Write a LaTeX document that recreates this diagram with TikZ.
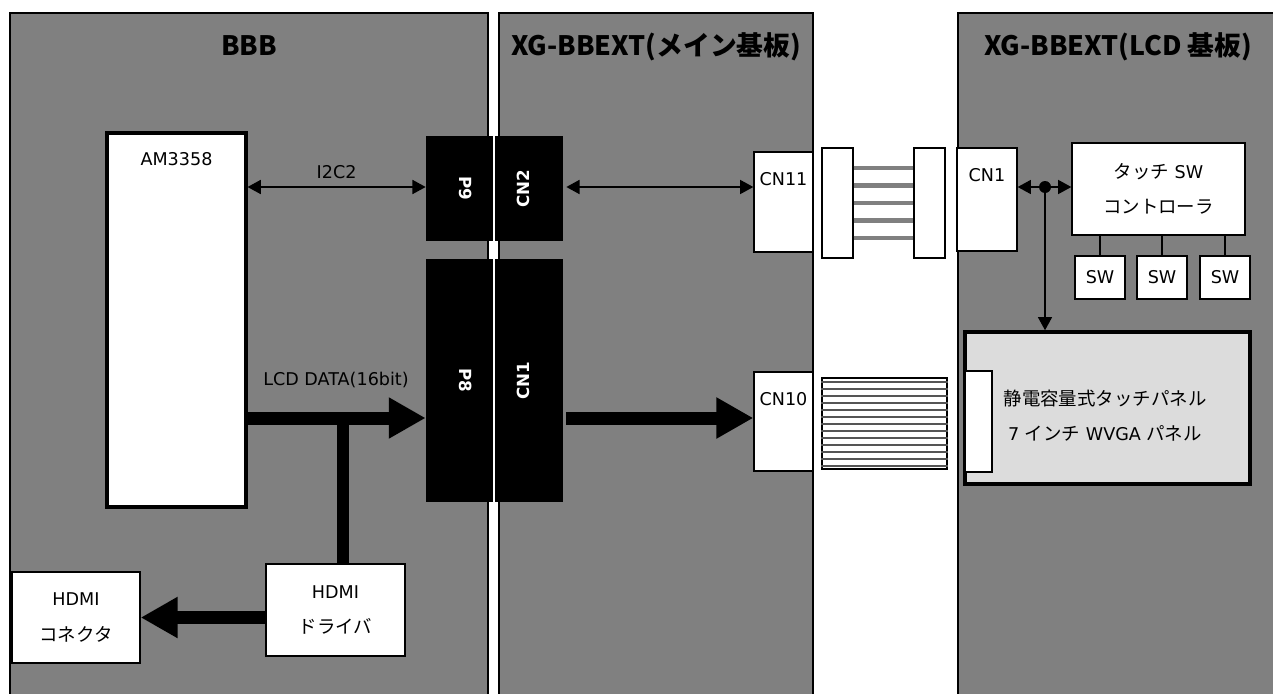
\documentclass[tikz,border=0pt]{standalone}
\usepackage{fontspec}
\setmainfont{DejaVu Sans}
\newfontfamily\jp{Noto Sans CJK JP}[Scale=1.05]
\usepackage{tikz}
\usetikzlibrary{arrows.meta,positioning,calc}
\usepackage{xcolor}
\definecolor{boardgray}{RGB}{128,128,128}
\definecolor{lcdgray}{RGB}{220,220,220}
\definecolor{stripegray}{RGB}{85,85,85}
\tikzset{
    boxsize/.style 2 args={
        minimum width=#1*0.02cm,
        minimum height=#2*0.02cm
    },
    board/.style={
        rectangle,
        draw,
        fill=boardgray,
        line width=0.6pt,
        inner sep=0pt
    },
    boardtitle/.style={
        font=\fontsize{14.5}{16}\selectfont\jp\bfseries
    },
    whitebox/.style={
        rectangle,
        draw,
        fill=white,
        line width=0.8pt,
        inner sep=0pt,
        align=center
    },
    toptext/.style={
        label={[anchor=center,yshift=-0.55cm]north:#1}
    },
    pinblock/.style={
        rectangle,
        fill=black,
        inner sep=0pt
    },
    pinlabel/.style={
        text=white,
        font=\fontsize{9.5}{11}\selectfont\bfseries
    },
    duplex/.style={
        {Triangle[length=7.5pt,width=8pt]}-{Triangle[length=7.5pt,width=8pt]},
        line width=0.8pt
    },
    oneway/.style={
        -{Triangle[length=7.5pt,width=8pt]},
        line width=0.8pt
    },
    fatarrow/.style={
        -{Triangle[length=21pt,width=22pt]},
        line width=7.4pt
    },
    fatline/.style={
        line width=6.4pt
    },
    wire/.style={
        line width=0.8pt
    },
    ribbon/.style={
        line width=2.8pt,
        boardgray
    },
    stripe/.style={
        line width=1.1pt,
        stripegray
    }
}

\begin{document}
\begin{tikzpicture}[x=0.02cm,y=-0.02cm,font=\fontsize{10}{20}\selectfont]
    \useasboundingbox (0,0) rectangle (1273,693);
    \clip (0,0) rectangle (1273,693);
    \fill[white] (0,0) rectangle (1273,693);

    % Boards
    \node[board, boxsize={478}{700}] (bbb) at (249,363) {};
    \node[board, boxsize={314}{700}] (mainb) at (656,363) {};
    \node[board, boxsize={322}{700}] (lcdb) at (1119,363) {};
    \node[boardtitle] (bbbtitle) at (249,46) {BBB};
    \node[boardtitle] (maintitle) at (656,47) {XG-BBEXT(メイン基板)};
    \node[boardtitle] (lcdtitle) at (1118,47) {XG-BBEXT(LCD 基板)};

    % BBB side
    \node[whitebox, line width=1.8pt, boxsize={139}{374}, toptext=AM3358] (am) at (176.5,320) {};
    \node[whitebox, boxsize={139}{92}] (hdmidrv) at (335.5,610) {HDMI\\{\jp ドライバ}};
    \node[whitebox, boxsize={128}{91}] (hdmicon) at (76,617.5) {HDMI\\{\jp コネクタ}};

    % Pin headers
    \node[pinblock, boxsize={67}{105}] (p9) at (459.5,188.5) {};
    \node[pinblock, boxsize={68}{105}] (cn2) at (529,188.5) {};
    \node[pinblock, boxsize={67}{243}] (p8) at (459.5,380.5) {};
    \node[pinblock, boxsize={68}{243}] (cn1) at (529,380.5) {};
    \node[pinlabel, rotate=-90] (p9txt) at ([xshift=0.13cm]p9.center) {P9};
    \node[pinlabel, rotate=90] (cn2txt) at ([xshift=-0.12cm]cn2.center) {CN2};
    \node[pinlabel, rotate=-90] (p8txt) at ([xshift=0.13cm]p8.center) {P8};
    \node[pinlabel, rotate=90] (cn1txt) at ([xshift=-0.12cm]cn1.center) {CN1};

    % Main board connectors
    \node[whitebox, boxsize={59}{100}, toptext=CN11] (cn11) at (783.5,202) {};
    \node[whitebox, boxsize={59}{99}, toptext=CN10] (cn10) at (783.5,421.5) {};

    % Cables
    \node[whitebox, boxsize={31}{110}] (plugl) at (837.5,203) {};
    \node[whitebox, boxsize={31}{110}] (plugr) at (929.5,203) {};
    \foreach \y in {168,185.5,203,220.5,238}
        \draw[ribbon] (plugl.east |- 0,\y) -- (plugr.west |- 0,\y);
    \node[whitebox, line width=1.2pt, boxsize={125}{91}] (flat) at (884.5,423.5) {};
    \foreach \y in {382,389,...,466}
        \draw[stripe] (flat.west |- 0,\y) -- (flat.east |- 0,\y);

    % LCD board
    \node[whitebox, boxsize={60}{103}, toptext=CN1] (cn1l) at (987,199.5) {};
    \node[whitebox, boxsize={173}{92}] (tsw) at (1158.5,189) {{\jp タッチ} SW\\{\jp コントローラ}};
    \node[whitebox, boxsize={50}{43}] (sw1) at (1100,277.5) {SW};
    \node[whitebox, boxsize={50}{43}] (sw2) at (1162,277.5) {SW};
    \node[whitebox, boxsize={50}{43}] (sw3) at (1225,277.5) {SW};
    \node[rectangle, draw, fill=lcdgray, line width=2pt, boxsize={285}{152}] (lcd) at (1107.5,408) {};
    \node[whitebox, boxsize={27}{101}] (fpc) at (978.5,421.5) {};
    \node[align=center] (lcdtxt) at (1105,416) {{\jp 静電容量式タッチパネル}\\7 {\jp インチ} WVGA {\jp パネル}};

    % Connections
    \coordinate (i2cy) at (0,187);
    \coordinate (datay) at (0,418);
    \coordinate (split) at (343,418);
    \draw[duplex] (am.east |- i2cy) -- (p9.west |- i2cy) node[midway, above=1pt] (i2clbl) {I2C2};
    \draw[duplex, shorten <=0.06cm] (cn2.east |- i2cy) -- (cn11.west |- i2cy);
    \draw[fatarrow] (am.east |- datay) -- (p8.west |- datay);
    \node (datalbl) at (336,380) {LCD DATA(16bit)};
    \draw[fatarrow, shorten <=0.06cm] (cn1.east |- datay) -- (cn10.west |- datay);
    \draw[fatline] (split) -- (split |- hdmidrv.north);
    \draw[fatarrow] (hdmidrv.west |- hdmicon.east) -- (hdmicon.east);
    \node[circle, fill, inner sep=0pt, minimum size=12*0.02cm] (junction) at (1045,187) {};
    \draw[oneway] (junction) -- (cn1l.east |- junction);
    \draw[oneway] (junction) -- (tsw.west |- junction);
    \draw[oneway] (junction) -- (junction |- lcd.north);
    \foreach \s in {sw1,sw2,sw3}
        \draw[wire] (\s.north) -- (\s.north |- tsw.south);
\end{tikzpicture}
\end{document}
